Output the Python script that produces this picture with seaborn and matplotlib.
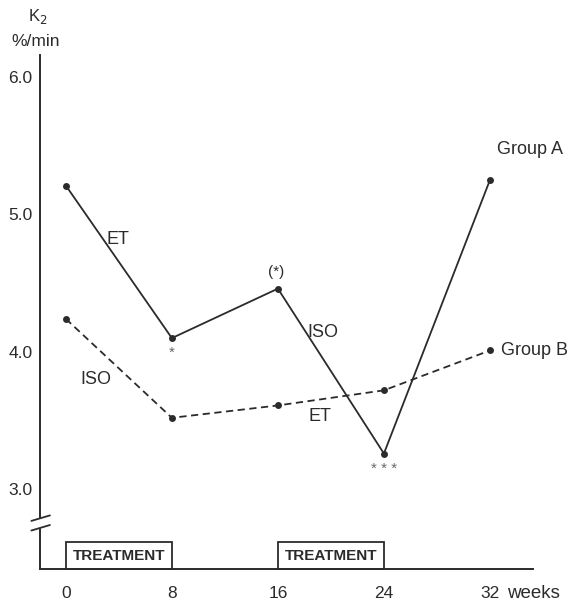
import pandas as pd
import seaborn as sns
import matplotlib.pyplot as plt
from matplotlib.patches import Rectangle

# ---- Data ----
weeks = [0, 8, 16, 24, 32]
group_a = [5.21, 4.10, 4.46, 3.26, 5.25]
group_b = [4.24, 3.52, 3.61, 3.72, 4.01]
treat_start = [0, 16]
treat_end = [8, 24]
x_ticks = [0, 8, 16, 24, 32]
y_ticks = [3.0, 4.0, 5.0, 6.0]

df = pd.DataFrame({
    "week": weeks * 2,
    "k2": group_a + group_b,
    "group": ["Group A"] * len(weeks) + ["Group B"] * len(weeks),
})

# ---- Plot ----
sns.set_theme(style="white")
plt.rcParams["font.family"] = ["Liberation Sans", "DejaVu Sans"]
ink = "#2b2b2b"

fig = plt.figure(figsize=(5.68, 6.04), dpi=100)
ax = fig.add_axes([40 / 568, 35 / 604, 493 / 568, 514 / 604])

sns.lineplot(data=df, x="week", y="k2", style="group",
             dashes={"Group A": "", "Group B": (4, 2.5)},
             markers={"Group A": "o", "Group B": "o"},
             color=ink, linewidth=1.3, markersize=5, markeredgewidth=0,
             legend=False, ax=ax)

ax.set_xlim(-1.95, 35.25)
ax.set_ylim(2.42, 6.16)
ax.set_xlabel("")
ax.set_ylabel("")
ax.set_xticks(x_ticks)
ax.set_xticklabels([str(v) for v in x_ticks])
ax.set_yticks(y_ticks)
ax.set_yticklabels([f"{v:.1f}" for v in y_ticks])
ax.tick_params(axis="both", colors=ink, labelcolor=ink, labelsize=12.5,
               width=1.2, direction="out")
ax.tick_params(axis="x", length=6.5, pad=5.5)
ax.tick_params(axis="y", length=4.5, pad=1)

for side in ["top", "right"]:
    ax.spines[side].set_visible(False)
for side in ["left", "bottom"]:
    ax.spines[side].set_color(ink)
    ax.spines[side].set_linewidth(1.4)
ax.spines["left"].set_bounds(2.79, 6.16)

# broken y axis
ax.plot([-1.95, -1.95], [2.42, 2.71], color=ink, lw=1.4, clip_on=False)
for yb in [2.79, 2.72]:
    ax.plot([-2.6, -1.2], [yb - 0.02, yb + 0.02], color=ink, lw=1.3, clip_on=False)

# treatment periods
for s, e in zip(treat_start, treat_end):
    ax.add_patch(Rectangle((s, 2.42), e - s, 0.2, fill=False, ec=ink, lw=1.3, clip_on=False))
    ax.text((s + e) / 2, 2.515, "TREATMENT", ha="center", va="center",
            fontsize=11, fontweight="bold", color=ink)

# annotations
ax.text(32.5, 5.47, "Group A", ha="left", va="center", fontsize=13, color=ink, clip_on=False)
ax.text(32.8, 4.01, "Group B", ha="left", va="center", fontsize=13, color=ink, clip_on=False)
ax.text(3.9, 4.82, "ET", ha="center", va="center", fontsize=13, color=ink)
ax.text(2.3, 3.80, "ISO", ha="center", va="center", fontsize=13, color=ink)
ax.text(19.4, 4.14, "ISO", ha="center", va="center", fontsize=13, color=ink)
ax.text(19.2, 3.53, "ET", ha="center", va="center", fontsize=13, color=ink)
ax.text(8, 3.99, "*", ha="center", va="center", fontsize=11, color="#666666")
ax.text(15.9, 4.58, "(*)", ha="center", va="center", fontsize=11, color=ink)
ax.text(24, 3.15, "* * *", ha="center", va="center", fontsize=11, color="#666666")
ax.annotate("weeks", xy=(33.3, 2.42), xytext=(0, -11.5), textcoords="offset points",
            ha="left", va="top", fontsize=13.5, color=ink, annotation_clip=False)

fig.text(38 / 568, 1 - 16 / 604, "K$_2$", ha="center", va="center", fontsize=12, color=ink)
fig.text(36 / 568, 1 - 41 / 604, "%/min", ha="center", va="center", fontsize=12.5, color=ink)

plt.savefig("out.png", dpi=100)
plt.close()
